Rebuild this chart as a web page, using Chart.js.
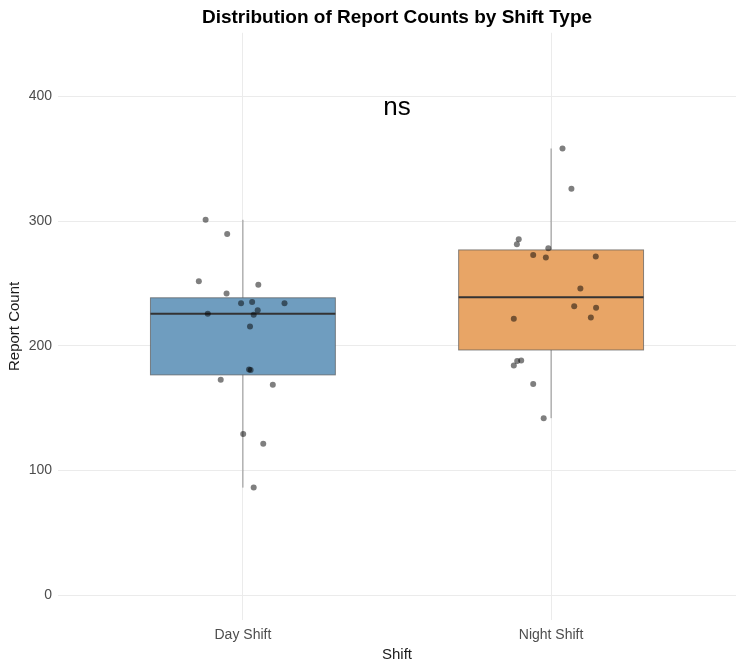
<!DOCTYPE html>
<html>
<head>
<meta charset="utf-8">
<script src="https://cdn.jsdelivr.net/npm/chart.js@4"></script>
<style>
  body { margin: 0; background: #fff; }
  #chart { display: block; }
</style>
</head>
<body>
<canvas id="chart" width="744" height="671"></canvas>
<script>
var shifts = ["Day Shift", "Night Shift"];
var boxColors = ["#6F9DBF", "#E8A566"];

// report counts, with their horizontal jitter offsets
var dayCounts = [301.0, 289.7, 251.7, 249.0, 241.8, 234.0, 235.1, 234.0, 228.4, 225.7,
                 224.9, 215.5, 181.0, 180.5, 172.7, 168.7, 129.1, 121.3, 86.2];
var dayJitter = [-0.121, -0.051, -0.143, 0.050, -0.053, -0.006, 0.030, 0.135, 0.048, -0.114,
                 0.035, 0.023, 0.020, 0.025, -0.072, 0.097, 0.001, 0.066, 0.035];

var nightCounts = [358.2, 325.9, 285.4, 281.4, 278.2, 272.8, 270.7, 271.5, 246.0,
                   231.6, 230.5, 222.7, 221.7, 188.2, 187.7, 184.2, 169.2, 141.9];
var nightJitter = [0.037, 0.066, -0.105, -0.111, -0.009, -0.058, -0.017, 0.145, 0.095,
                   0.075, 0.146, 0.129, -0.121, -0.097, -0.110, -0.121, -0.058, -0.024];

var yTicks = [0, 100, 200, 300, 400];
var sigLabel = "ns";

function quantile(sorted, p) {
   var pos = (sorted.length - 1) * p;
   var lo = Math.floor(pos), hi = Math.ceil(pos);
   return sorted[lo] + (sorted[hi] - sorted[lo]) * (pos - lo);
}

function boxStats(values) {
   var s = values.slice().sort(function (a, b) { return a - b; });
   var q1 = quantile(s, 0.25), med = quantile(s, 0.5), q3 = quantile(s, 0.75);
   var iqr = q3 - q1;
   var lo = s.filter(function (v) { return v >= q1 - 1.5 * iqr; })[0];
   var hiArr = s.filter(function (v) { return v <= q3 + 1.5 * iqr; });
   return { q1: q1, med: med, q3: q3, lo: lo, hi: hiArr[hiArr.length - 1] };
}

var stats = [boxStats(dayCounts), boxStats(nightCounts)];

var points = [];
dayCounts.forEach(function (v, i) { points.push({ x: 1 + dayJitter[i], y: v }); });
nightCounts.forEach(function (v, i) { points.push({ x: 2 + nightJitter[i], y: v }); });

var boxPlugin = {
   id: "boxes",
   beforeDatasetsDraw: function (chart) {
      var ctx = chart.ctx, xs = chart.scales.x, ys = chart.scales.y;
      ctx.save();
      stats.forEach(function (st, i) {
         var cx = xs.getPixelForValue(i + 1);
         var left = xs.getPixelForValue(i + 1 - 0.3);
         var right = xs.getPixelForValue(i + 1 + 0.3);
         // whisker
         ctx.strokeStyle = "rgba(90,90,90,0.65)";
         ctx.lineWidth = 1;
         ctx.beginPath();
         ctx.moveTo(cx, ys.getPixelForValue(st.lo));
         ctx.lineTo(cx, ys.getPixelForValue(st.hi));
         ctx.stroke();
         // box
         var top = ys.getPixelForValue(st.q3), bot = ys.getPixelForValue(st.q1);
         ctx.fillStyle = boxColors[i];
         ctx.fillRect(left, top, right - left, bot - top);
         ctx.strokeStyle = "rgba(90,90,90,0.7)";
         ctx.strokeRect(left, top, right - left, bot - top);
         // median
         ctx.strokeStyle = "#333333";
         ctx.lineWidth = 2;
         ctx.beginPath();
         var my = ys.getPixelForValue(st.med);
         ctx.moveTo(left, my);
         ctx.lineTo(right, my);
         ctx.stroke();
      });
      ctx.restore();
   },
   afterDraw: function (chart) {
      var ctx = chart.ctx, xs = chart.scales.x, ys = chart.scales.y;
      ctx.save();
      ctx.fillStyle = "#000";
      ctx.font = "26px 'Liberation Sans', Arial, sans-serif";
      ctx.textAlign = "center";
      ctx.textBaseline = "middle";
      ctx.fillText(sigLabel, xs.getPixelForValue(1.5), ys.getPixelForValue(391));
      ctx.restore();
   }
};

new Chart("chart", {
   type: "scatter",
   data: {
      datasets: [{
         data: points,
         backgroundColor: "rgba(0,0,0,0.5)",
         borderWidth: 0,
         pointRadius: 3
      }]
   },
   options: {
      responsive: false,
      animation: false,
      layout: { padding: { right: 8, top: 0 } },
      plugins: {
         legend: { display: false },
         tooltip: { enabled: false },
         title: {
            display: true,
            fullSize: false,
            text: "Distribution of Report Counts by Shift Type",
            color: "#000",
            font: { family: "'Liberation Sans', Arial, sans-serif", size: 19, weight: "bold" },
            padding: { top: 6, bottom: 4 }
         }
      },
      scales: {
         x: {
            type: "linear",
            min: 0.4,
            max: 2.6,
            afterBuildTicks: function (scale) {
               scale.ticks = [{ value: 1 }, { value: 2 }];
            },
            afterFit: function (scale) { scale.height = 51; },
            ticks: {
               color: "#4D4D4D",
               padding: 7,
               font: { family: "'Liberation Sans', Arial, sans-serif", size: 14 },
               callback: function (v) { return shifts[v - 1]; }
            },
            grid: { color: "#EBEBEB", drawTicks: false },
            border: { display: false },
            title: {
               display: true,
               text: "Shift",
               color: "#1A1A1A",
               font: { family: "'Liberation Sans', Arial, sans-serif", size: 15 },
               padding: { top: 0, bottom: 7 }
            }
         },
         y: {
            min: -20,
            max: 451,
            afterBuildTicks: function (scale) {
               scale.ticks = yTicks.map(function (v) { return { value: v }; });
            },
            afterFit: function (scale) { scale.width = 58; },
            ticks: {
               color: "#4D4D4D",
               padding: 6,
               font: { family: "'Liberation Sans', Arial, sans-serif", size: 14 }
            },
            grid: { color: "#EBEBEB", drawTicks: false },
            border: { display: false },
            title: {
               display: true,
               text: "Report Count",
               color: "#1A1A1A",
               font: { family: "'Liberation Sans', Arial, sans-serif", size: 15 },
               padding: { top: 6, bottom: 0 }
            }
         }
      }
   },
   plugins: [boxPlugin]
});
</script>
</body>
</html>
